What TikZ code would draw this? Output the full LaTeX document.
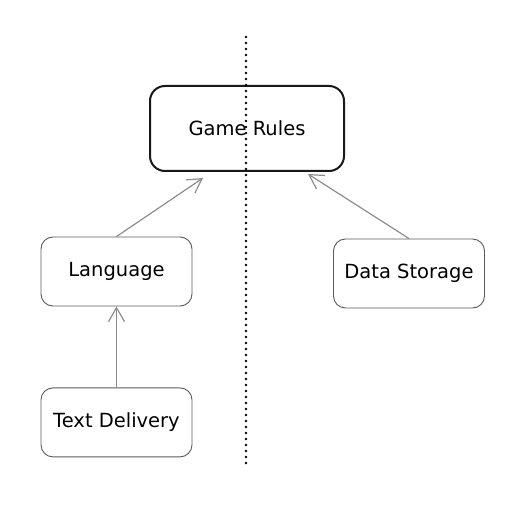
\documentclass[tikz,border=0pt]{standalone}
\usepackage{fontspec}
\setmainfont{DejaVu Sans}
\usetikzlibrary{arrows.meta}
\usetikzlibrary{positioning}
\definecolor{boxgray}{HTML}{5A5A5A}
\definecolor{arrowgray}{HTML}{8C8C8C}

\begin{document}
\begin{tikzpicture}[x=1pt,y=-1pt,
    box/.style={draw=boxgray,line width=0.9pt,rounded corners=12pt,minimum width=151pt,minimum height=69pt,font=\fontsize{19.5}{23}\selectfont},
    mainbox/.style={box,draw=black!90,line width=2pt,rounded corners=15pt,minimum width=194pt,minimum height=85pt},
    link/.style={draw=arrowgray,line width=1.2pt,-{Straight Barb[length=14pt,width=16pt]}}]
  \useasboundingbox (0,0) rectangle (523,508);
  \node[mainbox] (rules) at (247,128.5) {Game Rules};
  \node[box] (lang) at (116.5,271.5) {Language};
  \node[box,below=81pt of lang] (text) {Text Delivery};
  \node[box] (data) at (409,273.5) {Data Storage};
  \draw[link] (text) -- (lang);
  \draw[link] (lang.north) -- ([xshift=-44pt,yshift=-6pt]rules.south);
  \draw[link] (data.north) -- ([xshift=61pt,yshift=-2pt]rules.south);
  \draw[line width=2.6pt,dash pattern=on 0pt off 6pt,line cap=round] (246,37) -- (246,468);
\end{tikzpicture}
\end{document}
